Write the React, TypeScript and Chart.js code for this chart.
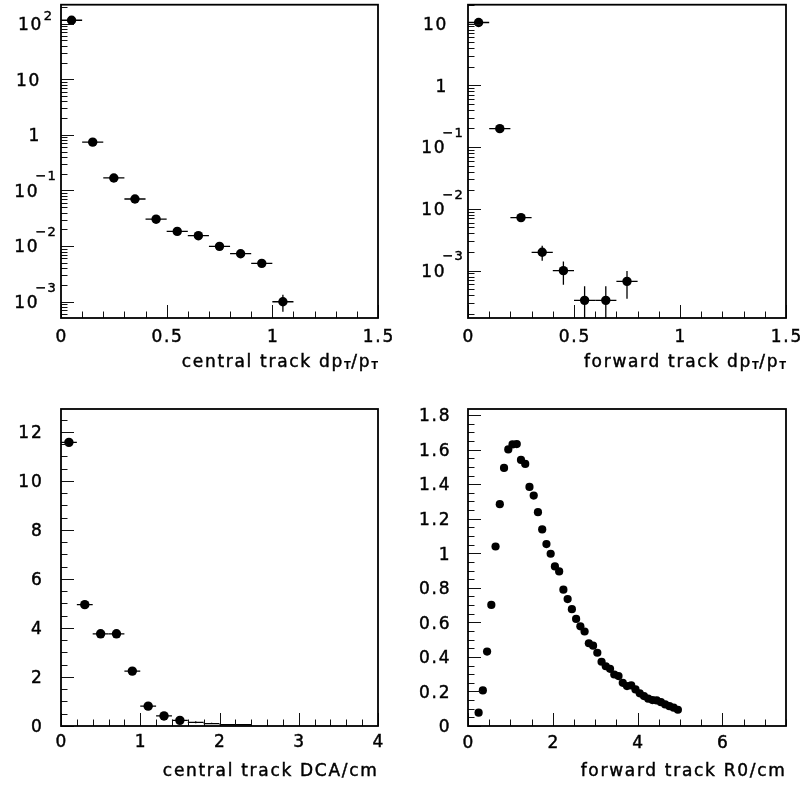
import React, { useEffect, useRef } from "react";
import { Chart, registerables } from "chart.js";

Chart.register(...registerables);

// ---------------- data ----------------
// Panel 1: central track dpT/pT (log y)
const p1X = [0.05, 0.15, 0.25, 0.35, 0.45, 0.55, 0.65, 0.75, 0.85, 0.95, 1.05];
const p1Y = [115, 0.74, 0.168, 0.0703, 0.0305, 0.0184, 0.0154, 0.0099, 0.0073, 0.0049, 0.001];
const p1YErr = [3, 0.03, 0.008, 0.004, 0.002, 0.0013, 0.0012, 0.0009, 0.0007, 0.0005, 0.00034];
const p1XErr = [0.05, 0.05, 0.05, 0.05, 0.05, 0.05, 0.05, 0.05, 0.05, 0.05, 0.05];
const p1XTicks = [0, 0.5, 1, 1.5];
const p1XTickLabels = ["0", "0.5", "1", "1.5"];
const p1YTicks = [100, 10, 1, 0.1, 0.01, 0.001];
const p1YTickLabels = ["10^2", "10", "1", "10^−1", "10^−2", "10^−3"];
const p1Title = "central track dp_T/p_T";

// Panel 2: forward track dpT/pT (log y)
const p2X = [0.05, 0.15, 0.25, 0.35, 0.45, 0.55, 0.65, 0.75];
const p2Y = [10.4, 0.199, 0.00722, 0.00198, 0.001, 0.00033, 0.00033, 0.00067];
const p2YErr = [0.2, 0.008, 0.0005, 0.00054, 0.00041, 0.00023, 0.00023, 0.00032];
const p2XErr = [0.05, 0.05, 0.05, 0.05, 0.05, 0.05, 0.05, 0.05];
const p2XTicks = [0, 0.5, 1, 1.5];
const p2XTickLabels = ["0", "0.5", "1", "1.5"];
const p2YTicks = [10, 1, 0.1, 0.01, 0.001];
const p2YTickLabels = ["10", "1", "10^−1", "10^−2", "10^−3"];
const p2Title = "forward track dp_T/p_T";

// Panel 3: central track DCA/cm
const p3X = [0.1, 0.3, 0.5, 0.7, 0.9, 1.1, 1.3, 1.5];
const p3Y = [11.57, 4.95, 3.76, 3.76, 2.24, 0.81, 0.41, 0.23];
const p3YErr = [0.12, 0.08, 0.07, 0.07, 0.05, 0.03, 0.02, 0.015];
const p3XErr = [0.1, 0.1, 0.1, 0.1, 0.1, 0.1, 0.1, 0.1];
const p3TailX = [1.7, 1.9, 2.1, 2.3];
const p3TailY = [0.15, 0.1, 0.05, 0.05];
const p3TailYErr = [0.04, 0.03, 0.02, 0.02];
const p3TailXErr = [0.1, 0.1, 0.1, 0.1];
const p3XTicks = [0, 1, 2, 3, 4];
const p3XTickLabels = ["0", "1", "2", "3", "4"];
const p3YTicks = [0, 2, 4, 6, 8, 10, 12];
const p3YTickLabels = ["0", "2", "4", "6", "8", "10", "12"];
const p3Title = "central track DCA/cm";

// Panel 4: forward track R0/cm
const p4X = [
  0.25, 0.35, 0.45, 0.55, 0.65, 0.75, 0.85, 0.95, 1.05, 1.15, 1.25, 1.35,
  1.45, 1.55, 1.65, 1.75, 1.85, 1.95, 2.05, 2.15, 2.25, 2.35, 2.45, 2.55,
  2.65, 2.75, 2.85, 2.95, 3.05, 3.15, 3.25, 3.35, 3.45, 3.55, 3.65, 3.75,
  3.85, 3.95, 4.05, 4.15, 4.25, 4.35, 4.45, 4.55, 4.65, 4.75, 4.85, 4.95,
];
const p4Y = [
  0.077, 0.206, 0.431, 0.701, 1.039, 1.284, 1.494, 1.601, 1.63, 1.632, 1.54, 1.517,
  1.384, 1.334, 1.238, 1.138, 1.053, 0.997, 0.924, 0.895, 0.789, 0.735, 0.676, 0.62,
  0.577, 0.547, 0.479, 0.465, 0.424, 0.372, 0.346, 0.331, 0.298, 0.289, 0.25, 0.231,
  0.235, 0.212, 0.189, 0.173, 0.158, 0.15, 0.148, 0.138, 0.125, 0.115, 0.106, 0.094,
];
const p4XTicks = [0, 2, 4, 6];
const p4XTickLabels = ["0", "2", "4", "6"];
const p4YTicks = [0, 0.2, 0.4, 0.6, 0.8, 1, 1.2, 1.4, 1.6, 1.8];
const p4YTickLabels = ["0", "0.2", "0.4", "0.6", "0.8", "1", "1.2", "1.4", "1.6", "1.8"];
const p4Title = "forward track R0/cm";

// ---------------- drawing helpers ----------------
const FONT = '"DejaVu Sans", sans-serif';
const FS = 17;
const LS = 1.7;

type Series = {
  x: number[];
  y: number[];
  xErr?: number[];
  yErr?: number[];
  radius: number;
};

type PanelCfg = {
  key: string;
  box: { left: number; top: number; width: number; height: number };
  frame: { left: number; top: number; right: number; bottom: number };
  xMin: number;
  xMax: number;
  yMin: number;
  yMax: number;
  yLog: boolean;
  xTicks: number[];
  xTickLabels: string[];
  xMinorStep: number;
  yTicks: number[];
  yTickLabels: string[];
  yMinorStep: number;
  xLabelDy: number;
  yLabelDx: number;
  titleDy: number;
  title: string;
  series: Series[];
};

function setFont(ctx: CanvasRenderingContext2D, size: number, ls = LS, weight = "") {
  ctx.font = `${weight ? weight + " " : ""}${size}px ${FONT}`;
  (ctx as any).letterSpacing = `${ls}px`;
}
function tw(ctx: CanvasRenderingContext2D, s: string, ls = LS) {
  return ctx.measureText(s).width - ls;
}
function txt(ctx: CanvasRenderingContext2D, s: string, x: number, y: number) {
  ctx.fillText(s, x, y);
  ctx.strokeText(s, x, y);
}

function minorValues(cfg: PanelCfg, axis: "x" | "y"): number[] {
  const out: number[] = [];
  if (axis === "y" && cfg.yLog) {
    const d0 = Math.floor(Math.log10(cfg.yMin));
    const d1 = Math.ceil(Math.log10(cfg.yMax));
    for (let d = d0; d <= d1; d++) {
      for (let k = 2; k <= 9; k++) {
        const v = k * Math.pow(10, d);
        if (v >= cfg.yMin && v <= cfg.yMax) out.push(v);
      }
    }
    return out;
  }
  const min = axis === "x" ? cfg.xMin : cfg.yMin;
  const max = axis === "x" ? cfg.xMax : cfg.yMax;
  const step = axis === "x" ? cfg.xMinorStep : cfg.yMinorStep;
  const majors = axis === "x" ? cfg.xTicks : cfg.yTicks;
  const n = Math.floor((max - min) / step + 1e-6);
  for (let i = 0; i <= n; i++) {
    const v = min + i * step;
    if (!majors.some((m) => Math.abs(m - v) < step * 1e-3)) out.push(v);
  }
  return out;
}

function makePlugin(cfg: PanelCfg) {
  return {
    id: "rootAxes_" + cfg.key,
    beforeDatasetsDraw(chart: any) {
      const { ctx, chartArea: a } = chart;
      const xs = chart.scales.x;
      const ys = chart.scales.y;
      ctx.save();
      ctx.beginPath();
      ctx.rect(a.left, a.top, a.right - a.left, a.bottom - a.top);
      ctx.clip();
      ctx.strokeStyle = "#000";
      ctx.lineWidth = 1.3;
      for (const s of cfg.series) {
        for (let i = 0; i < s.x.length; i++) {
          const px = xs.getPixelForValue(s.x[i]);
          const py = ys.getPixelForValue(s.y[i]);
          ctx.beginPath();
          if (s.xErr && s.xErr[i]) {
            ctx.moveTo(xs.getPixelForValue(s.x[i] - s.xErr[i]), py);
            ctx.lineTo(xs.getPixelForValue(s.x[i] + s.xErr[i]), py);
          }
          if (s.yErr && s.yErr[i]) {
            const hi = ys.getPixelForValue(s.y[i] + s.yErr[i]);
            const loV = s.y[i] - s.yErr[i];
            const lo = loV > 0 || !cfg.yLog ? ys.getPixelForValue(loV) : a.bottom + 2;
            ctx.moveTo(px, hi);
            ctx.lineTo(px, lo);
          }
          ctx.stroke();
        }
      }
      ctx.restore();
    },
    afterDatasetsDraw(chart: any) {
      const { ctx, chartArea: a } = chart;
      const xs = chart.scales.x;
      const ys = chart.scales.y;
      ctx.save();
      // ticks
      ctx.strokeStyle = "#111";
      ctx.lineWidth = 1;
      const MAJ = 13;
      const MIN = 6.5;
      const xTick = (v: number, len: number) => {
        const px = Math.round(xs.getPixelForValue(v)) + 0.5;
        ctx.beginPath();
        ctx.moveTo(px, a.bottom);
        ctx.lineTo(px, a.bottom - len);
        ctx.stroke();
      };
      const yTick = (v: number, len: number) => {
        const py = Math.round(ys.getPixelForValue(v)) + 0.5;
        ctx.beginPath();
        ctx.moveTo(a.left, py);
        ctx.lineTo(a.left + len, py);
        ctx.stroke();
      };
      cfg.xTicks.forEach((v) => xTick(v, MAJ));
      minorValues(cfg, "x").forEach((v) => xTick(v, MIN));
      cfg.yTicks.forEach((v) => yTick(v, MAJ));
      minorValues(cfg, "y").forEach((v) => yTick(v, MIN));

      // frame
      ctx.strokeStyle = "#000";
      ctx.lineWidth = 1.8;
      ctx.strokeRect(a.left, a.top, a.right - a.left, a.bottom - a.top);

      // labels
      ctx.fillStyle = "#000";
      ctx.strokeStyle = "#000";
      ctx.lineWidth = 0.45;
      ctx.textAlign = "left";
      ctx.textBaseline = "alphabetic";
      cfg.xTicks.forEach((v, i) => {
        const s = cfg.xTickLabels[i];
        setFont(ctx, FS);
        const w = tw(ctx, s);
        const px = xs.getPixelForValue(v);
        txt(ctx, s, px - w / 2, a.bottom + cfg.xLabelDy);
      });
      cfg.yTicks.forEach((v, i) => {
        const s = cfg.yTickLabels[i];
        const py = ys.getPixelForValue(v);
        if (s.includes("^")) {
          const [base, exp] = s.split("^");
          setFont(ctx, FS);
          const wb = tw(ctx, base);
          setFont(ctx, 13, 1);
          const we = tw(ctx, exp, 1);
          const gap = exp.startsWith("−") ? -2 : 2.5;
          const total = wb + gap + we;
          const cx = a.left - 26;
          const x0 = cx - total / 2;
          const raise = exp.startsWith("−") ? 16.5 : 10;
          setFont(ctx, FS);
          txt(ctx, base, x0, py + 6.3);
          setFont(ctx, 13, 1);
          txt(ctx, exp, x0 + wb + gap, py + 6.3 - raise);
        } else {
          setFont(ctx, FS);
          const w = tw(ctx, s);
          txt(ctx, s, a.left - cfg.yLabelDx - w, py + 6.3);
        }
      });

      // title (with _X subscripts)
      const parts = cfg.title.split(/(_.)/).filter((p) => p.length > 0);
      const widths = parts.map((p) => {
        if (p.startsWith("_")) {
          setFont(ctx, 10, 0.5, "bold");
          return ctx.measureText(p.slice(1)).width;
        }
        setFont(ctx, FS);
        return ctx.measureText(p).width;
      });
      const totalW = widths.reduce((s, w) => s + w, 0) - 0.5;
      let x = a.right - totalW;
      const by = a.bottom + cfg.titleDy;
      parts.forEach((p, i) => {
        if (p.startsWith("_")) {
          setFont(ctx, 10, 0.5, "bold");
          ctx.fillText(p.slice(1), x, by + 1.8);
        } else {
          setFont(ctx, FS);
          txt(ctx, p, x, by);
        }
        x += widths[i];
      });
      ctx.restore();
    },
  };
}

function Panel({ cfg }: { cfg: PanelCfg }) {
  const ref = useRef<HTMLCanvasElement>(null);
  useEffect(() => {
    const canvas = ref.current!;
    const { box, frame } = cfg;
    const chart = new Chart(canvas, {
      type: "scatter",
      data: {
        datasets: cfg.series.map((s) => ({
          data: s.x.map((xv, i) => ({ x: xv, y: s.y[i] })),
          pointRadius: s.radius,
          pointHoverRadius: s.radius,
          pointBackgroundColor: "#000",
          pointBorderColor: "#000",
          pointBorderWidth: 0,
          showLine: false,
        })),
      },
      options: {
        animation: false,
        responsive: false,
        maintainAspectRatio: false,
        devicePixelRatio: 1,
        events: [],
        layout: {
          padding: {
            left: frame.left,
            top: frame.top,
            right: box.width - frame.right,
            bottom: box.height - frame.bottom,
          },
        },
        plugins: {
          legend: { display: false },
          tooltip: { enabled: false },
        },
        scales: {
          x: { type: "linear", min: cfg.xMin, max: cfg.xMax, display: false },
          y: {
            type: cfg.yLog ? "logarithmic" : "linear",
            min: cfg.yMin,
            max: cfg.yMax,
            display: false,
          },
        },
      } as any,
      plugins: [makePlugin(cfg) as any],
    });
    return () => chart.destroy();
  }, [cfg]);
  const { box } = cfg;
  return (
    <canvas
      ref={ref}
      width={box.width}
      height={box.height}
      style={{
        position: "absolute",
        left: box.left,
        top: box.top,
        width: box.width,
        height: box.height,
      }}
    />
  );
}

const panels: PanelCfg[] = [
  {
    key: "p1",
    box: { left: 0, top: 0, width: 402, height: 400 },
    frame: { left: 61, top: 2, right: 378, bottom: 318 },
    xMin: 0,
    xMax: 1.5,
    yMin: 5.1e-4,
    yMax: 219,
    yLog: true,
    xTicks: p1XTicks,
    xTickLabels: p1XTickLabels,
    xMinorStep: 0.1,
    yTicks: p1YTicks,
    yTickLabels: p1YTickLabels,
    yMinorStep: 0,
    xLabelDy: 24.2,
    yLabelDx: 21.7,
    titleDy: 48.7,
    title: p1Title,
    series: [{ x: p1X, y: p1Y, xErr: p1XErr, yErr: p1YErr, radius: 4.7 }],
  },
  {
    key: "p2",
    box: { left: 402, top: 0, width: 403, height: 400 },
    frame: { left: 66, top: 2, right: 384, bottom: 318 },
    xMin: 0,
    xMax: 1.5,
    yMin: 1.71e-4,
    yMax: 20.2,
    yLog: true,
    xTicks: p2XTicks,
    xTickLabels: p2XTickLabels,
    xMinorStep: 0.1,
    yTicks: p2YTicks,
    yTickLabels: p2YTickLabels,
    yMinorStep: 0,
    xLabelDy: 24.2,
    yLabelDx: 21.7,
    titleDy: 48.7,
    title: p2Title,
    series: [{ x: p2X, y: p2Y, xErr: p2XErr, yErr: p2YErr, radius: 4.7 }],
  },
  {
    key: "p3",
    box: { left: 0, top: 400, width: 402, height: 387 },
    frame: { left: 61, top: 9, right: 378, bottom: 326 },
    xMin: 0,
    xMax: 4,
    yMin: 0,
    yMax: 12.93,
    yLog: false,
    xTicks: p3XTicks,
    xTickLabels: p3XTickLabels,
    xMinorStep: 0.2,
    yTicks: p3YTicks,
    yTickLabels: p3YTickLabels,
    yMinorStep: 0.5,
    xLabelDy: 21.3,
    yLabelDx: 19.3,
    titleDy: 49.7,
    title: p3Title,
    series: [
      { x: p3X, y: p3Y, xErr: p3XErr, yErr: p3YErr, radius: 4.7 },
      { x: p3TailX, y: p3TailY, xErr: p3TailXErr, yErr: p3TailYErr, radius: 0 },
    ],
  },
  {
    key: "p4",
    box: { left: 402, top: 400, width: 403, height: 387 },
    frame: { left: 66, top: 9, right: 384, bottom: 326 },
    xMin: 0,
    xMax: 7.5,
    yMin: 0,
    yMax: 1.835,
    yLog: false,
    xTicks: p4XTicks,
    xTickLabels: p4XTickLabels,
    xMinorStep: 0.5,
    yTicks: p4YTicks,
    yTickLabels: p4YTickLabels,
    yMinorStep: 0.05,
    xLabelDy: 21.8,
    yLabelDx: 18.5,
    titleDy: 49.7,
    title: p4Title,
    series: [{ x: p4X, y: p4Y, radius: 4.1 }],
  },
];

export default function App() {
  return (
    <div
      style={{
        position: "absolute",
        left: 0,
        top: 0,
        width: 805,
        height: 787,
        background: "#fff",
        overflow: "hidden",
      }}
    >
      {panels.map((p) => (
        <Panel key={p.key} cfg={p} />
      ))}
    </div>
  );
}
